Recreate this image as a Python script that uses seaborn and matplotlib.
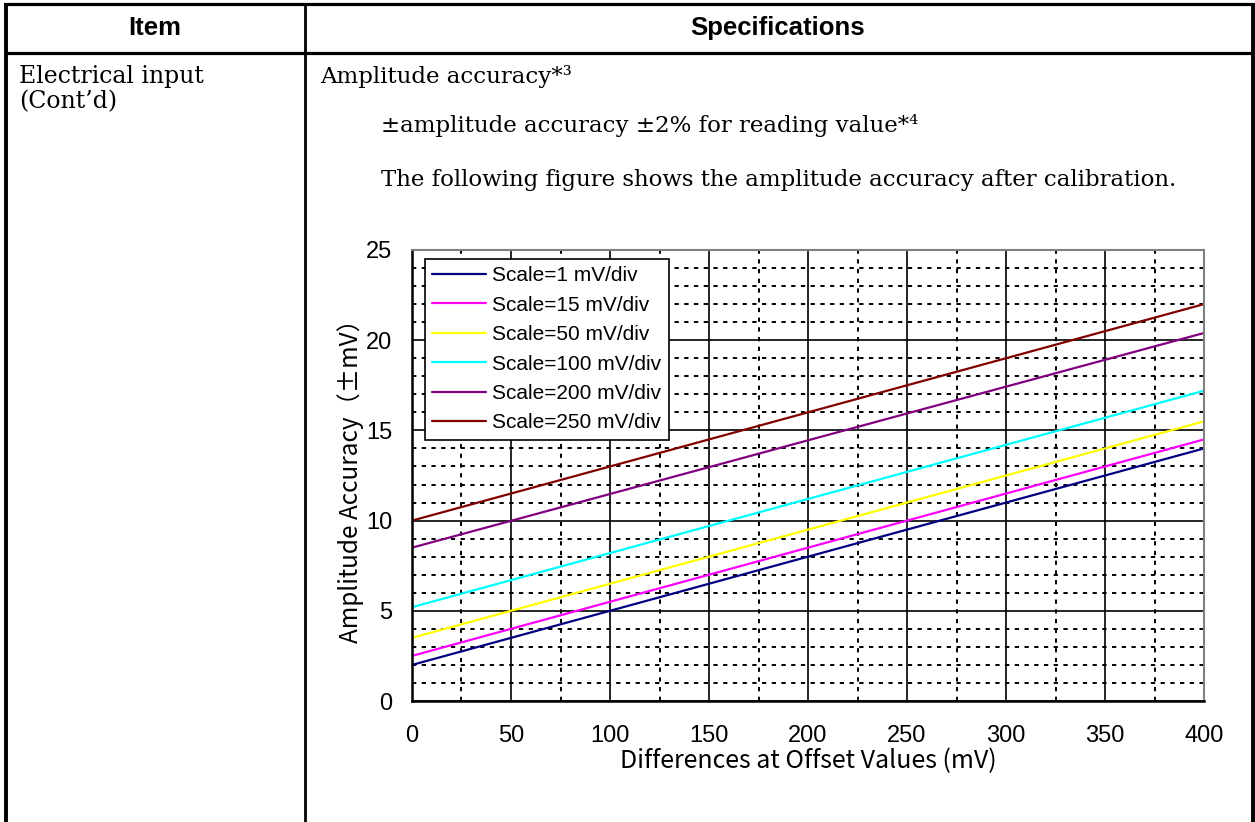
import pandas as pd
import numpy as np
import matplotlib.pyplot as plt
from matplotlib.lines import Line2D
from matplotlib.ticker import MultipleLocator
import seaborn as sns

# values (end points of each straight line)
offset_mv = [0, 400]
scale_labels = ["Scale=1 mV/div", "Scale=15 mV/div", "Scale=50 mV/div",
                "Scale=100 mV/div", "Scale=200 mV/div", "Scale=250 mV/div"]
acc_1mv = [2.0, 14.0]
acc_15mv = [2.5, 14.5]
acc_50mv = [3.5, 15.5]
acc_100mv = [5.2, 17.2]
acc_200mv = [8.5, 20.4]
acc_250mv = [10.0, 22.0]
line_colors = ["#000080", "#FF00FF", "#FFFF00", "#00FFFF", "#800080", "#800000"]

x_ticks = [0, 50, 100, 150, 200, 250, 300, 350, 400]
y_ticks = [0, 5, 10, 15, 20, 25]

series = [acc_1mv, acc_15mv, acc_50mv, acc_100mv, acc_200mv, acc_250mv]
df = pd.concat([pd.DataFrame({"offset": offset_mv, "accuracy": vals, "scale": lab})
                for lab, vals in zip(scale_labels, series)], ignore_index=True)

sns.set_style("white")
plt.rcParams["font.family"] = ["Liberation Sans", "DejaVu Sans"]
plt.rcParams["text.color"] = "black"
plt.rcParams["axes.labelcolor"] = "black"
plt.rcParams["xtick.color"] = "black"
plt.rcParams["ytick.color"] = "black"

W, H = 1255, 822
fig = plt.figure(figsize=(W / 100, H / 100), dpi=100)


def fx(px):
    return px / W


def fy(py):
    return 1 - py / H


# table frame around the figure
def rule(x0, y0, x1, y1, lw):
    fig.add_artist(Line2D([fx(x0), fx(x1)], [fy(y0), fy(y1)], transform=fig.transFigure,
                          color="black", lw=lw, solid_capstyle="butt"))


rule(4, 4.5, 1255, 4.5, 2.3)
rule(6, 3, 6, 822, 2.8)
rule(1253, 3, 1253, 822, 2.8)
rule(6, 53.5, 1253, 53.5, 2.3)
rule(305, 4, 305, 822, 2.0)

fig.text(fx(155), fy(28), "Item", ha="center", va="center", fontsize=18.5, fontweight="bold")
fig.text(fx(778), fy(28), "Specifications", ha="center", va="center", fontsize=18.5, fontweight="bold")

serif = ["DejaVu Serif"]
fig.text(fx(19), fy(83), "Electrical input", fontsize=17, family=serif, va="baseline")
fig.text(fx(19), fy(108), "(Cont\u2019d)", fontsize=17, family=serif, va="baseline")
fig.text(fx(320), fy(83), "Amplitude accuracy*\u00b3", fontsize=16.5, family=serif, va="baseline")
fig.text(fx(381), fy(132), "\u00b1amplitude accuracy \u00b12% for reading value*\u2074",
         fontsize=16.5, family=serif, va="baseline")
fig.text(fx(381), fy(186), "The following figure shows the amplitude accuracy after calibration.",
         fontsize=16.5, family=serif, va="baseline")

# chart
ax = fig.add_axes([fx(412), fy(701), (1204 - 412) / W, (701 - 250) / H])
sns.lineplot(data=df, x="offset", y="accuracy", hue="scale", hue_order=scale_labels,
             palette=dict(zip(scale_labels, line_colors)), linewidth=1.6, ax=ax)

ax.set_xlim(0, 400)
ax.set_ylim(0, 25)
ax.set_xticks(x_ticks)
ax.set_yticks(y_ticks)
ax.xaxis.set_minor_locator(MultipleLocator(25))
ax.yaxis.set_minor_locator(MultipleLocator(1))
ax.set_axisbelow(True)
ax.grid(which="major", color="black", lw=1.2, ls="-")
ax.grid(which="minor", color="black", lw=1.4, ls=(0, (2.2, 2.8)))
ax.tick_params(which="both", length=0)
ax.tick_params(axis="x", labelsize=17, pad=17, labelcolor="black")
ax.tick_params(axis="y", labelsize=17, pad=14, labelcolor="black")

for side in ["left", "bottom"]:
    ax.spines[side].set_color("black")
    ax.spines[side].set_linewidth(1.8)
for side in ["top", "right"]:
    ax.spines[side].set_color("#808080")
    ax.spines[side].set_linewidth(1.5)

cjk = ["Noto Sans CJK JP", "DejaVu Sans"]
ax.set_xlabel("Differences at Offset Values (mV)", fontsize=18, family=cjk, labelpad=1, color="black")
ax.set_ylabel("Amplitude Accuracy\uff08\u00b1mV\uff09", fontsize=17.5, family=cjk, color="black")
ax.yaxis.set_label_coords(-0.061, 0.5)

leg = ax.get_legend()
handles = leg.legend_handles
labels = [t.get_text() for t in leg.get_texts()]
leg.remove()
ax.legend(handles, labels, loc="upper left", bbox_to_anchor=(0.016, 0.98), borderaxespad=0,
          fontsize=15, frameon=True, fancybox=False, framealpha=1, edgecolor="black",
          handlelength=2.6, handletextpad=0.3, labelspacing=0.5, borderpad=0.35,
          labelcolor="black")
ax.get_legend().get_frame().set_linewidth(1.2)

fig.savefig("out.png", dpi=100)
